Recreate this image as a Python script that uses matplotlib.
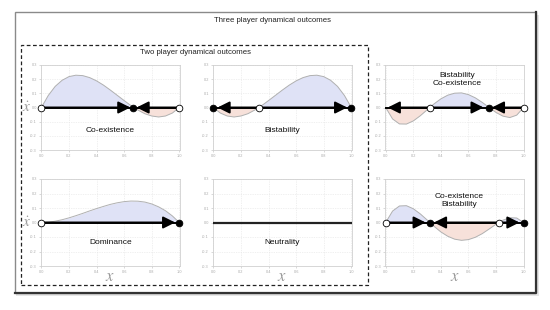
import matplotlib
matplotlib.use("Agg")
import matplotlib.pyplot as plt
from matplotlib.patches import Rectangle, FancyArrowPatch

plt.rcParams['font.family'] = ['Liberation Sans', 'DejaVu Sans']
plt.rcParams['mathtext.fontset'] = 'stix'

# ---------------- data ----------------
x_vals = [0.0, 0.05, 0.1, 0.15, 0.2, 0.25, 0.3, 0.35, 0.4, 0.45, 0.5,
          0.55, 0.6, 0.65, 0.7, 0.75, 0.8, 0.85, 0.9, 0.95, 1.0]

coexist_y = [0.0, 0.085, 0.149, 0.192, 0.218, 0.228, 0.225, 0.211, 0.188, 0.158, 0.123,
             0.086, 0.049, 0.013, -0.018, -0.044, -0.060, -0.067, -0.060, -0.039, 0.0]
bistab_y = [0.0, -0.039, -0.060, -0.067, -0.060, -0.044, -0.018, 0.013, 0.049, 0.086, 0.123,
            0.158, 0.188, 0.211, 0.225, 0.228, 0.218, 0.192, 0.149, 0.085, 0.0]
dominance_y = [0.0, 0.002, 0.009, 0.019, 0.032, 0.047, 0.063, 0.080, 0.096, 0.111, 0.125,
               0.136, 0.144, 0.148, 0.147, 0.141, 0.128, 0.108, 0.081, 0.045, 0.0]
neutral_y = [0.0] * 21
bist_coex_y = [0.0, -0.081, -0.116, -0.117, -0.095, -0.059, -0.017, 0.025, 0.061, 0.087, 0.101,
               0.103, 0.091, 0.068, 0.036, 0.0, -0.035, -0.061, -0.071, -0.054, 0.0]
coex_bist_y = [0.0, 0.079, 0.114, 0.116, 0.095, 0.060, 0.018, -0.026, -0.065, -0.095, -0.115,
               -0.123, -0.118, -0.102, -0.077, -0.045, -0.012, 0.016, 0.033, 0.031, 0.0]

y_ticks = [-0.3, -0.2, -0.1, 0.0, 0.1, 0.2, 0.3]
x_ticks = [0.0, 0.2, 0.4, 0.6, 0.8, 1.0]

# arrows: (start, tip)
coexist_arrows = [(0.0, 0.645), (1.0, 0.69)]
bistab_arrows = [(0.333, 0.03), (0.333, 0.97)]
dominance_arrows = [(0.0, 0.97)]
neutral_arrows = []
bist_coex_arrows = [(0.32, 0.015), (0.32, 0.71), (1.0, 0.77)]
coex_bist_arrows = [(0.0, 0.29), (0.82, 0.35), (0.82, 0.97)]

coexist_stable, coexist_unstable = [0.667], [0.0, 1.0]
bistab_stable, bistab_unstable = [0.0, 1.0], [0.333]
dominance_stable, dominance_unstable = [1.0], [0.0]
bist_coex_stable, bist_coex_unstable = [0.75], [0.32, 1.0]
coex_bist_stable, coex_bist_unstable = [0.32, 1.0], [0.0, 0.82]

panel_labels = ["Co-existence", "Bistability", "Bistability\nCo-existence",
                "Dominance", "Neutrality", "Co-existence\nBistability"]

# ---------------- figure ----------------
W, H = 550, 310
fig = plt.figure(figsize=(W / 100, H / 100), dpi=100)


def fx(px):
    return px / W


def fy(py):
    return 1 - py / H


# outer box with shadow
fig.patches.append(Rectangle((fx(16), fy(296)), fx(523), (293 - 12) / H + 0.0,
                             transform=fig.transFigure, facecolor='#e6e6e6',
                             edgecolor='none', zorder=0))
fig.patches.append(Rectangle((fx(14.5), fy(293)), fx(536 - 14.5), (293 - 11.5) / H,
                             transform=fig.transFigure, facecolor='white',
                             edgecolor='#8a8a8a', lw=1.0, zorder=1))
fig.lines.append(plt.Line2D([fx(14.5), fx(536), fx(536)], [fy(293), fy(293), fy(11.5)],
                            transform=fig.transFigure, color='#333333', lw=1.6, zorder=2))
# dashed inner box
fig.patches.append(Rectangle((fx(21), fy(285)), fx(368 - 21), (285 - 45) / H,
                             transform=fig.transFigure, facecolor='none',
                             edgecolor='#222222', lw=0.9, ls=(0, (3, 2)), zorder=2))

fig.text(fx(273), fy(21), "Three player dynamical outcomes", ha='center', va='center',
         fontsize=5.6, color='#222222')
fig.text(fx(195), fy(53), "Two player dynamical outcomes", ha='center', va='center',
         fontsize=5.6, color='#222222')

lefts = [40.7, 212.7, 385.0]
rows = [(65, 150), (179, 266)]
panel_w = 139.3

curves = [coexist_y, bistab_y, bist_coex_y, dominance_y, neutral_y, coex_bist_y]
arrows = [coexist_arrows, bistab_arrows, bist_coex_arrows,
          dominance_arrows, neutral_arrows, coex_bist_arrows]
stables = [coexist_stable, bistab_stable, bist_coex_stable,
           dominance_stable, [], coex_bist_stable]
unstables = [coexist_unstable, bistab_unstable, bist_coex_unstable,
             dominance_unstable, [], coex_bist_unstable]
label_pos = [(0.5, -0.16), (0.5, -0.16), (0.52, 0.2),
             (0.5, -0.14), (0.5, -0.14), (0.53, 0.155)]

for i in range(6):
    r, c = divmod(i, 3)
    top, bot = rows[r]
    ax = fig.add_axes([fx(lefts[c]), fy(bot), fx(panel_w), (bot - top) / H])
    ax.set_zorder(10)
    ax.set_xlim(-0.005, 1.005)
    ax.set_ylim(-0.3, 0.3)
    ax.set_xticks(x_ticks)
    ax.set_yticks(y_ticks)
    ax.set_xticklabels([f"{v:.1f}" for v in x_ticks])
    ax.set_yticklabels([f"{v:.1f}" for v in y_ticks])
    ax.tick_params(labelsize=2.8, colors='#bbbbbb', length=1.2, width=0.4, pad=1.5,
                   labelcolor='#aaaaaa')
    for s in ax.spines.values():
        s.set_color('#d0d0d0')
        s.set_linewidth(0.6)
    ax.grid(True, ls=(0, (1, 1.5)), color='#e2e2e2', lw=0.5)
    ax.set_axisbelow(True)

    y = curves[i]
    if i != 4:
        ax.fill_between(x_vals, y, 0, where=[v >= 0 for v in y], interpolate=True,
                        color='#dfe2f6', lw=0)
        ax.fill_between(x_vals, y, 0, where=[v <= 0 for v in y], interpolate=True,
                        color='#f7e1da', lw=0)
        ax.plot(x_vals, y, color='#b0b0b0', lw=0.7)
        ax.plot([0, 1], [0, 0], color='black', lw=1.4, zorder=3)
    else:
        ax.plot(x_vals, y, color='#222222', lw=1.6, zorder=3)

    for (s0, t0) in arrows[i]:
        ar = FancyArrowPatch((s0, 0), (t0, 0), arrowstyle='-|>,head_length=0.9,head_width=0.45',
                             mutation_scale=8, color='black', lw=1.4, zorder=4,
                             shrinkA=0, shrinkB=0)
        ax.add_patch(ar)
    if stables[i]:
        ax.plot(stables[i], [0] * len(stables[i]), 'o', ms=4.8, mfc='black', mec='black',
                mew=0.6, zorder=6, clip_on=False)
    if unstables[i]:
        ax.plot(unstables[i], [0] * len(unstables[i]), 'o', ms=4.8, mfc='white', mec='black',
                mew=0.6, zorder=6, clip_on=False)

    lx, ly = label_pos[i]
    ax.text(lx, ly, panel_labels[i], ha='center', va='center', fontsize=6,
            color='#111111', linespacing=1.2)

    if c == 0:
        ax.text(-0.105, 0.0, r"$\dot{x}$", ha='center', va='center',
                fontsize=11, color='#999999', clip_on=False)
    if r == 1:
        ax.text(0.5, -0.375, r"$x$", ha='center', va='center', fontsize=12,
                color='#999999', clip_on=False)

fig.savefig("out.png", dpi=100)
